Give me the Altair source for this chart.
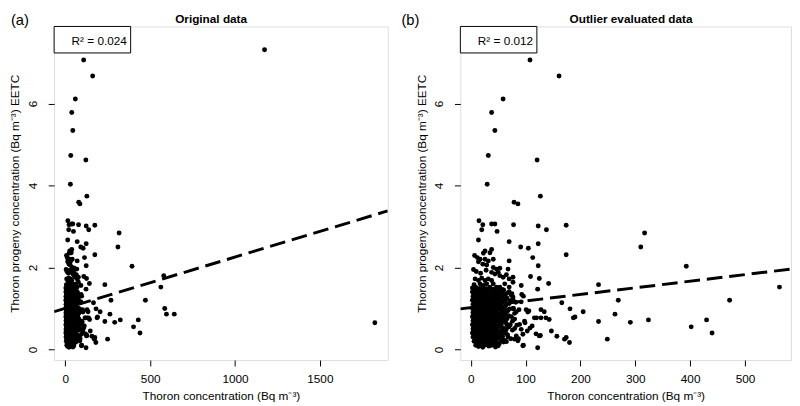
import altair as alt
import pandas as pd

FONT = "Liberation Sans"

# (thoron concentration, thoron progeny EETC) pairs
high_points = [(108, 7.06), (161, 6.67), (59, 6.11), (38, 5.78), (44, 5.34), (32, 4.73),
               (121, 4.62), (30, 4.03), (127, 3.74), (79, 3.59), (86, 3.55)]

mid_points = [(15, 3.14), (22, 3.04), (20, 2.92), (38, 3.06), (44, 3.06), (48, 2.88), (78, 3.04),
              (123, 3.01), (138, 2.92), (174, 3.03), (14, 2.67), (70, 2.63), (91, 2.50), (105, 2.47),
              (123, 2.58), (174, 2.31), (113, 2.24), (123, 2.04), (70, 2.16), (317, 2.84), (310, 2.50),
              (393, 2.03), (7, 2.29)]

upper_cluster = [(26, 2.40), (23, 2.35), (38, 2.44), (35, 2.36), (12, 2.24), (17, 2.20), (14, 2.14),
                 (26, 2.20), (32, 2.16), (41, 2.20), (22, 2.08), (29, 2.06), (41, 2.00), (47, 1.96),
                 (53, 1.98), (68, 1.96), (38, 1.88), (44, 1.84), (50, 1.88), (53, 1.80), (59, 1.76),
                 (65, 1.82), (70, 1.72), (77, 1.76), (8, 1.72), (14, 1.68), (20, 1.74), (26, 1.68),
                 (32, 1.72), (38, 1.68), (17, 1.60), (23, 1.56), (29, 1.60), (35, 1.52), (41, 1.60),
                 (47, 1.52), (53, 1.52), (62, 1.60), (70, 1.52), (77, 1.64), (92, 1.56), (5, 1.95),
                 (10, 1.90), (18, 1.86), (28, 1.93), (6, 1.58)]

right_scatter = [(109, 1.78), (125, 1.73), (142, 1.61), (93, 1.34), (96, 1.30), (122, 1.47), (166, 1.14),
                 (233, 1.58), (269, 1.20), (472, 1.20), (563, 1.52), (205, 0.92), (181, 0.99), (187, 0.77),
                 (190, 0.79), (263, 0.86), (233, 0.68), (291, 0.66), (324, 0.72), (430, 0.72), (402, 0.55),
                 (440, 0.40), (249, 0.25), (180, 0.17), (171, 0.25), (174, 0.29), (157, 0.32), (147, 0.45),
                 (127, 0.34), (122, 0.04), (96, 0.10), (106, 0.94), (116, 0.77), (112, 0.57), (108, 0.52),
                 (103, 0.45), (95, 0.37), (87, 0.26), (99, 0.65), (84, 0.59), (74, 1.32), (77, 1.28),
                 (92, 1.16), (101, 0.97), (104, 0.91), (128, 0.97), (134, 0.92), (77, 1.00), (83, 0.92),
                 (120, 0.77), (128, 0.77), (137, 0.77), (143, 0.73), (98, 0.69), (89, 0.61), (92, 0.49),
                 (83, 0.33), (80, 0.25), (119, 0.38), (125, 0.33), (95, 0.09), (86, 0.21)]

dense_cluster = [
    (6, 1.45), (12, 1.42), (18, 1.47), (25, 1.44), (31, 1.40), (38, 1.46), (44, 1.43), (52, 1.41), (60, 1.45), (67, 1.38),
    (8, 1.35), (14, 1.33), (21, 1.37), (27, 1.32), (34, 1.36), (40, 1.31), (47, 1.34), (55, 1.30), (63, 1.33), (75, 1.36),
    (5, 1.26), (11, 1.24), (17, 1.27), (23, 1.22), (29, 1.25), (36, 1.21), (42, 1.26), (49, 1.23), (57, 1.20), (66, 1.25), (72, 1.19),
    (7, 1.15), (13, 1.13), (19, 1.17), (26, 1.12), (32, 1.16), (38, 1.11), (45, 1.14), (52, 1.10), (59, 1.16), (70, 1.12), (82, 1.15),
    (6, 1.05), (10, 1.02), (16, 1.07), (22, 1.03), (28, 1.06), (34, 1.01), (41, 1.04), (48, 1.08), (55, 1.02), (63, 1.05), (78, 1.00),
    (8, 0.95), (14, 0.93), (20, 0.97), (25, 0.92), (31, 0.96), (37, 0.91), (43, 0.94), (50, 0.98), (58, 0.92), (68, 0.95), (88, 0.97),
    (5, 0.85), (11, 0.83), (17, 0.87), (23, 0.82), (29, 0.86), (35, 0.81), (40, 0.84), (47, 0.88), (54, 0.82), (62, 0.86), (74, 0.80),
    (7, 0.75), (13, 0.73), (19, 0.77), (26, 0.72), (32, 0.76), (38, 0.71), (45, 0.74), (51, 0.78), (57, 0.72), (66, 0.75), (80, 0.74),
    (6, 0.65), (12, 0.63), (18, 0.67), (24, 0.62), (30, 0.66), (36, 0.61), (42, 0.64), (49, 0.68), (56, 0.62), (64, 0.65), (72, 0.60),
    (8, 0.55), (14, 0.53), (20, 0.57), (27, 0.52), (33, 0.56), (39, 0.51), (46, 0.54), (53, 0.58), (60, 0.52), (70, 0.55),
    (5, 0.45), (11, 0.43), (17, 0.47), (23, 0.42), (29, 0.46), (35, 0.41), (42, 0.44), (48, 0.48), (55, 0.42), (63, 0.45), (76, 0.47),
    (7, 0.35), (13, 0.33), (19, 0.37), (25, 0.32), (31, 0.36), (38, 0.31), (44, 0.34), (51, 0.38), (58, 0.32), (67, 0.36),
    (9, 0.25), (15, 0.23), (21, 0.27), (28, 0.22), (34, 0.26), (41, 0.21), (47, 0.24), (54, 0.28), (62, 0.22), (73, 0.26),
    (12, 0.15), (18, 0.13), (24, 0.17), (30, 0.12), (37, 0.16), (44, 0.11), (52, 0.14), (60, 0.18),
    (14, 0.07), (22, 0.05), (33, 0.08), (45, 0.06)]

dense_cluster_2 = [
    (3, 1.50), (9, 1.52), (16, 1.49), (22, 1.51), (29, 1.48), (35, 1.50), (42, 1.47), (49, 1.49), (57, 1.46),
    (3, 1.40), (10, 1.38), (16, 1.41), (23, 1.39), (29, 1.42), (36, 1.38), (43, 1.40), (50, 1.37), (58, 1.39), (70, 1.41),
    (4, 1.30), (9, 1.29), (15, 1.31), (21, 1.28), (28, 1.30), (34, 1.27), (40, 1.29), (46, 1.31), (53, 1.28), (61, 1.30),
    (3, 1.20), (9, 1.19), (15, 1.21), (21, 1.18), (27, 1.20), (33, 1.17), (40, 1.19), (47, 1.21), (54, 1.18), (63, 1.20), (77, 1.22),
    (4, 1.10), (10, 1.09), (16, 1.11), (23, 1.08), (29, 1.10), (35, 1.07), (42, 1.09), (49, 1.11), (56, 1.08), (65, 1.10),
    (3, 1.00), (9, 0.99), (15, 1.01), (21, 0.98), (27, 1.00), (33, 0.97), (39, 0.99), (46, 1.01), (53, 0.98), (61, 1.00), (71, 0.99),
    (4, 0.90), (10, 0.89), (16, 0.91), (22, 0.88), (28, 0.90), (34, 0.87), (41, 0.89), (47, 0.91), (54, 0.88), (64, 0.90), (80, 0.88),
    (3, 0.80), (9, 0.79), (15, 0.81), (21, 0.78), (27, 0.80), (33, 0.77), (40, 0.79), (46, 0.81), (53, 0.78), (61, 0.80), (69, 0.82),
    (4, 0.70), (10, 0.69), (16, 0.71), (22, 0.68), (28, 0.70), (34, 0.67), (40, 0.69), (47, 0.71), (53, 0.68), (60, 0.70), (76, 0.69),
    (3, 0.60), (9, 0.59), (15, 0.61), (21, 0.58), (28, 0.60), (34, 0.57), (41, 0.59), (47, 0.61), (54, 0.58), (66, 0.60),
    (4, 0.50), (10, 0.49), (16, 0.51), (22, 0.48), (28, 0.50), (35, 0.47), (41, 0.49), (48, 0.51), (56, 0.48), (65, 0.50), (80, 0.51),
    (3, 0.40), (9, 0.39), (15, 0.41), (21, 0.38), (28, 0.40), (34, 0.37), (41, 0.39), (47, 0.41), (54, 0.38), (63, 0.40),
    (4, 0.30), (11, 0.29), (17, 0.31), (23, 0.28), (29, 0.30), (36, 0.27), (43, 0.29), (50, 0.31), (57, 0.28), (68, 0.30),
    (6, 0.20), (12, 0.19), (19, 0.21), (26, 0.18), (32, 0.20), (39, 0.17), (47, 0.19), (56, 0.21), (65, 0.19),
    (9, 0.10), (17, 0.09), (26, 0.11), (38, 0.10), (50, 0.09)]

# points only present in the original data (panel a)
outlier_points = [(580, 1.80), (586, 1.00), (596, 0.86), (642, 0.86), (1174, 7.31), (1824, 0.65)]

# dashed regression line end points (at the axis limits)
fit_a_x = [-66, 1900]
fit_a_y = [0.92, 3.38]
fit_b_x = [-19, 584]
fit_b_y = [0.99, 1.96]

r2_a = "R\u00b2 = 0.024"
r2_b = "R\u00b2 = 0.012"

x_ticks_a = [0, 500, 1000, 1500]
x_ticks_b = [0, 100, 200, 300, 400, 500]
y_ticks = [0, 2, 4, 6]
y_domain = [-0.26, 7.88]

main_points = high_points + mid_points + upper_cluster + right_scatter + dense_cluster + dense_cluster_2
df_b = pd.DataFrame(main_points, columns=["x", "y"])
df_a = pd.DataFrame(main_points + outlier_points, columns=["x", "y"])

X_TITLE = "Thoron concentration (Bq  m\u207b\u00b3)"
Y_TITLE = "Thoron progeny concentration (Bq  m\u207b\u00b3) EETC"


def panel(df, fx, fy, xdom, xticks, title, title_x, r2, tag, tag_x, w, h=340):
    xs = alt.Scale(domain=xdom, nice=False, zero=False)
    ys = alt.Scale(domain=y_domain, nice=False, zero=False)
    xax = alt.Axis(values=xticks, title=X_TITLE, format="d", grid=False, domain=False,
                   tickSize=6, tickColor="black", labelColor="black", labelFont=FONT, labelFontSize=12,
                   labelPadding=8, titleFont=FONT, titleFontSize=12, titleFontWeight="normal",
                   titleColor="black", titlePadding=6, labelFlush=False)
    yax = alt.Axis(values=y_ticks, title=Y_TITLE, format="d", grid=False, domain=False,
                   tickSize=6, tickColor="black", labelColor="black", labelFont=FONT, labelFontSize=12,
                   labelAngle=270, labelAlign="center", labelBaseline="bottom", labelPadding=9,
                   titleFont=FONT, titleFontSize=12, titleFontWeight="normal", titleColor="black",
                   titlePadding=5, labelFlush=False)
    pts = alt.Chart(df).mark_circle(size=25, color="black", opacity=1).encode(
        x=alt.X("x:Q", scale=xs, axis=xax),
        y=alt.Y("y:Q", scale=ys, axis=yax),
    )
    fit = pd.DataFrame({"x": fx, "y": fy})
    line = alt.Chart(fit).mark_line(color="black", strokeDash=[16, 7], strokeWidth=3,
                                    strokeCap="butt", clip=True).encode(
        x=alt.X("x:Q", scale=xs), y=alt.Y("y:Q", scale=ys))
    lab = pd.DataFrame({"t": [r2], "tag": [tag], "title": [title]})
    box = alt.Chart(lab).mark_rect(fill="white", stroke="black", strokeWidth=1).encode(
        x=alt.value(0), x2=alt.value(78), y=alt.value(0), y2=alt.value(27))
    txt = alt.Chart(lab).mark_text(font=FONT, fontSize=12, color="black").encode(
        x=alt.value(46), y=alt.value(15), text="t:N")
    tg = alt.Chart(lab).mark_text(font=FONT, fontSize=15, color="black", align="left",
                                  baseline="top").encode(
        x=alt.value(tag_x), y=alt.value(-13), text="tag:N")
    ttl = alt.Chart(lab).mark_text(font=FONT, fontSize=12, fontWeight="bold", color="black",
                                   align="center", baseline="top").encode(
        x=alt.value(title_x), y=alt.value(-13), text="title:N")
    return alt.layer(pts, line, box, txt, tg, ttl).properties(width=w, height=h)


pa = panel(df_a, fit_a_x, fit_a_y, [-66, 1900], x_ticks_a, "Original data", 160,
           r2_a, "(a)", -44, 340)
pb = panel(df_b, fit_b_x, fit_b_y, [-19, 584], x_ticks_b, "Outlier evaluated data", 174,
           r2_b, "(b)", -60, 337)

chart = alt.hconcat(pa, pb, spacing=12).properties(padding=0).configure_view(
    stroke="black", strokeWidth=1
).configure(background="white")

chart.save("out.html", embed_options={"renderer": "svg", "actions": False})
